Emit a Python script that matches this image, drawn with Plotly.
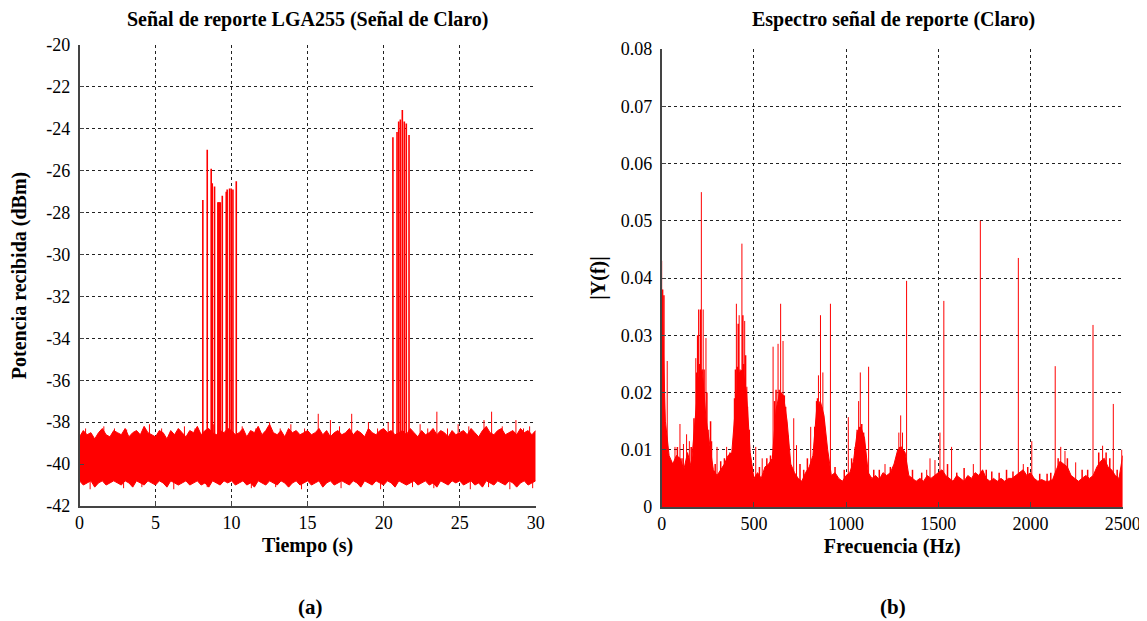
import plotly.graph_objects as go

# ---------------- (a) Señal de reporte en el tiempo ----------------
paso_t = 0.25
borde_superior = [
    -38.7, -38.4, -38.6, -38.5, -38.8, -38.5, -38.3, -38.6, -38.7, -38.4,
    -38.5, -38.6, -38.3, -38.7, -38.5, -38.4, -38.6, -38.2, -38.5, -38.6,
    -38.7, -38.4, -38.5, -38.8, -38.4, -38.6, -38.3, -38.5, -38.7, -38.4,
    -38.5, -38.2, -38.6, -38.4, -38.3, -38.5, -38.6, -38.4, -38.5, -38.3,
    -38.4, -38.6, -38.5, -38.3, -38.7, -38.4, -38.5, -38.2, -38.6, -38.4,
    -38.1, -38.5, -38.6, -38.4, -38.7, -38.3, -38.5, -38.4, -38.6, -38.5,
    -38.4, -38.6, -38.5, -38.3, -38.6, -38.4, -38.7, -38.5, -38.4, -38.6,
    -38.5, -38.3, -38.6, -38.4, -38.5, -38.7, -38.3, -38.5, -38.6, -38.4,
    -38.3, -38.5, -38.4, -38.6, -38.5, -38.4, -38.6, -38.3, -38.5, -38.7,
    -38.4, -38.6, -38.5, -38.3, -38.6, -38.4, -38.5, -38.7, -38.4, -38.6,
    -38.5, -38.4, -38.6, -38.3, -38.5, -38.7, -38.4, -38.2, -38.5, -38.6,
    -38.4, -38.3, -38.6, -38.5, -38.4, -38.6, -38.3, -38.5, -38.4, -38.6,
    -38.4,
]
borde_inferior = [
    -40.8, -41.0, -40.9, -40.8, -41.1, -40.9, -40.8, -41.0, -40.9, -40.8,
    -40.9, -41.0, -40.8, -40.9, -41.1, -40.8, -40.9, -41.0, -40.8, -40.9,
    -41.0, -40.8, -40.9, -41.1, -40.8, -40.9, -41.0, -40.9, -40.8, -41.0,
    -40.9, -40.8, -41.0, -40.9, -41.1, -40.8, -40.9, -41.0, -40.8, -40.9,
    -40.8, -41.0, -40.9, -40.8, -41.0, -40.9, -41.1, -40.8, -40.9, -41.0,
    -40.8, -40.9, -41.0, -40.8, -40.9, -41.1, -40.9, -40.8, -41.0, -40.9,
    -40.8, -41.0, -40.9, -40.8, -41.1, -40.9, -40.8, -41.0, -40.9, -40.8,
    -40.9, -41.0, -40.8, -40.9, -41.1, -40.8, -40.9, -41.0, -40.8, -40.9,
    -41.0, -40.8, -40.9, -41.1, -40.8, -40.9, -41.0, -40.9, -40.8, -41.0,
    -40.9, -40.8, -41.0, -40.9, -41.1, -40.8, -40.9, -41.0, -40.8, -40.9,
    -40.8, -41.0, -40.9, -40.8, -41.0, -40.9, -41.1, -40.8, -40.9, -41.0,
    -40.8, -40.9, -41.0, -40.8, -40.9, -41.1, -40.9, -40.8, -41.0, -40.9,
    -40.8,
]
tiempo_borde = [i * paso_t for i in range(len(borde_superior))]

# rafagas de reporte y picos de ruido (tiempo s, potencia dBm)
rafaga_t = [8.11, 8.40, 8.66, 8.73, 8.88, 9.10, 9.15, 9.20, 9.26, 9.39,
            9.65, 9.71, 9.87, 9.98, 10.09, 10.31,
            20.61, 20.88, 20.99, 21.10, 21.23, 21.36, 21.49, 21.67]
rafaga_p = [-27.4, -25.0, -25.9, -26.6, -26.75, -27.5, -27.5, -27.5, -27.5, -27.2,
            -27.0, -26.9, -26.85, -26.85, -26.9, -26.5,
            -24.4, -24.15, -23.65, -23.55, -23.1, -23.65, -23.75, -24.3]
ruido_t = [0.4, 1.6, 2.3, 3.1, 4.6, 5.4, 6.9, 7.6, 8.8, 10.7, 11.6, 12.5, 13.2,
           13.9, 14.8, 15.7, 16.5, 17.1, 17.9, 19.0, 19.6, 20.3, 22.4, 22.9,
           23.5, 24.2, 24.9, 25.6, 26.6, 27.1, 27.8, 28.7, 29.2, 29.6]
ruido_p = [-38.3, -38.2, -38.3, -38.35, -38.1, -38.3, -38.2, -38.3, -38.1, -38.2,
           -38.3, -38.0, -38.3, -38.1, -38.3, -37.6, -37.9, -38.2, -37.6, -38.0,
           -38.3, -38.0, -38.1, -38.3, -37.5, -38.3, -38.1, -38.2, -37.9, -37.5,
           -38.2, -37.9, -38.3, -38.2]
ruido_bajo_t = [0.7, 2.9, 4.1, 6.2, 8.4, 11.3, 12.9, 14.6, 17.2, 19.8, 21.9,
                23.3, 25.7, 26.9, 28.3, 29.8]
ruido_bajo_p = [-41.2, -41.15, -41.1, -41.2, -41.1, -41.15, -41.1, -41.2, -41.15,
                -41.2, -41.1, -41.15, -41.2, -41.1, -41.2, -41.15]
ticks_potencia = [-42, -40, -38, -36, -34, -32, -30, -28, -26, -24, -22, -20]

# ---------------- (b) Espectro ----------------
paso_f = 20
espectro_base = [
    0.0380, 0.0150, 0.0090, 0.0075, 0.0090, 0.0085, 0.0065, 0.0095, 0.0070, 0.0145,
    0.0225, 0.0240, 0.0155, 0.0110, 0.0065, 0.0055, 0.0065, 0.0075, 0.0090, 0.0095,
    0.0175, 0.0235, 0.0240, 0.0200, 0.0095, 0.0050, 0.0060, 0.0050, 0.0070, 0.0075,
    0.0085, 0.0170, 0.0200, 0.0195, 0.0150, 0.0075, 0.0060, 0.0050, 0.0045, 0.0060,
    0.0070, 0.0090, 0.0170, 0.0185, 0.0160, 0.0100, 0.0055, 0.0060, 0.0050, 0.0045,
    0.0055, 0.0060, 0.0080, 0.0130, 0.0140, 0.0120, 0.0060, 0.0050, 0.0055, 0.0048,
    0.0060, 0.0055, 0.0060, 0.0075, 0.0100, 0.0105, 0.0095, 0.0055, 0.0050, 0.0045,
    0.0050, 0.0045, 0.0055, 0.0050, 0.0055, 0.0060, 0.0065, 0.0055, 0.0050, 0.0045,
    0.0055, 0.0050, 0.0045, 0.0055, 0.0050, 0.0060, 0.0055, 0.0065, 0.0050, 0.0045,
    0.0050, 0.0045, 0.0050, 0.0045, 0.0050, 0.0050, 0.0055, 0.0060, 0.0065, 0.0055,
    0.0060, 0.0050, 0.0045, 0.0048, 0.0045, 0.0045, 0.0048, 0.0065, 0.0080, 0.0075,
    0.0070, 0.0055, 0.0050, 0.0045, 0.0050, 0.0055, 0.0050, 0.0055, 0.0070, 0.0080,
    0.0085, 0.0070, 0.0065, 0.0055, 0.0050, 0.0090,
]
frecuencia_base = [i * paso_f for i in range(len(espectro_base))]

# picos destacados (Hz, |Y(f)|)
pico_f = [0, 30, 72, 99, 118, 135, 150, 185, 200, 215, 225, 240, 255, 300, 352,
          405, 420, 435, 450, 462, 510, 545, 604, 631, 645, 658, 716, 731, 808,
          850, 861, 874, 915, 1012, 1068, 1077, 1122, 1211, 1286, 1296, 1306,
          1328, 1437, 1455, 1482, 1509, 1530, 1572, 1690, 1728, 1934, 1961,
          2007, 2134, 2164, 2187, 2245, 2339, 2391, 2449, 2495]
pico_y = [0.043, 0.0255, 0.0105, 0.0145, 0.011, 0.0127, 0.0115, 0.026, 0.0345, 0.055,
          0.0345, 0.0295, 0.0135, 0.0105, 0.0105, 0.0355, 0.0335, 0.046, 0.0325,
          0.021, 0.0105, 0.0085, 0.028, 0.0285, 0.0355, 0.029, 0.0155, 0.0108,
          0.014, 0.023, 0.0335, 0.0235, 0.0355, 0.0157, 0.0185, 0.0235, 0.0245,
          0.0075, 0.013, 0.016, 0.013, 0.0395, 0.0065, 0.0085, 0.0082, 0.013,
          0.036, 0.0105, 0.0075, 0.050, 0.0435, 0.0075, 0.0115, 0.0246, 0.0105,
          0.0098, 0.0078, 0.0318, 0.0107, 0.018, 0.010]

# textura de las jorobas y del piso de ruido (Hz, |Y(f)|)
textura_f = [5, 12, 50, 85, 110, 160, 175, 190, 195, 205, 210, 230, 245, 265, 270,
             290, 320, 340, 370, 395, 400, 410, 415, 425, 440, 445, 455, 465, 475,
             530, 570, 590, 612, 620, 637, 650, 665, 672, 685, 750, 770, 790,
             830, 840, 845, 855, 868, 880, 890, 940, 990, 1030, 1050, 1060, 1072,
             1085, 1095, 1105, 1150, 1180, 1240, 1275, 1290, 1300, 1315, 1360,
             1410, 1550, 1600, 1640, 1760, 1790, 1830, 1870, 1905, 1985, 2050,
             2090, 2110, 2150, 2200, 2280, 2310, 2370, 2410, 2430, 2470]
textura_y = [0.038, 0.037, 0.008, 0.0105, 0.0085, 0.0105, 0.0155, 0.0235, 0.030,
             0.025, 0.0345, 0.024, 0.020, 0.015, 0.0115, 0.0075, 0.008, 0.0085,
             0.0095, 0.019, 0.024, 0.0245, 0.032, 0.024, 0.0335, 0.025, 0.0265,
             0.0175, 0.0135, 0.007, 0.0085, 0.009, 0.0185, 0.0205, 0.0205, 0.020,
             0.0195, 0.0175, 0.0125, 0.0075, 0.0065, 0.0085, 0.014, 0.0185,
             0.019, 0.018, 0.0175, 0.015, 0.0095, 0.007, 0.0065, 0.0085, 0.0105,
             0.0135, 0.014, 0.0145, 0.013, 0.0085, 0.0065, 0.0065, 0.007, 0.009,
             0.0105, 0.0105, 0.0095, 0.0065, 0.006, 0.0075, 0.006, 0.0068, 0.0065,
             0.0062, 0.006, 0.0065, 0.0062, 0.007, 0.0058, 0.0058, 0.006, 0.0085,
             0.0085, 0.0065, 0.0065, 0.0095, 0.0095, 0.0085, 0.0065]
ticks_espectro = ["0", "0.01", "0.02", "0.03", "0.04", "0.05", "0.06", "0.07", "0.08"]

ROJO = "#ff0000"
FUENTE = "Liberation Serif"

# la pagina deja 8 px de margen en el body: se descuentan aqui
ANCHO, ALTO, DESPL = 1139, 613, 8


def px_x(x):
    return (x - DESPL) / ANCHO


def px_y(y):
    return 1 - (y - DESPL) / ALTO


def tallos(xs, ys, base):
    sx, sy = [], []
    for x, y in zip(xs, ys):
        sx += [x, x, None]
        sy += [base, y, None]
    return sx, sy


fig = go.Figure()

# banda de ruido (a)
fig.add_trace(go.Scatter(x=tiempo_borde, y=borde_inferior, mode="lines",
                         line=dict(color=ROJO, width=1), xaxis="x", yaxis="y"))
fig.add_trace(go.Scatter(x=tiempo_borde, y=borde_superior, mode="lines",
                         line=dict(color=ROJO, width=1), fill="tonexty",
                         fillcolor=ROJO, xaxis="x", yaxis="y"))
sx, sy = tallos(ruido_t, ruido_p, -39.5)
fig.add_trace(go.Scatter(x=sx, y=sy, mode="lines", line=dict(color=ROJO, width=1),
                         xaxis="x", yaxis="y"))
sx, sy = tallos(ruido_bajo_t, ruido_bajo_p, -40.0)
fig.add_trace(go.Scatter(x=sx, y=sy, mode="lines", line=dict(color=ROJO, width=1),
                         xaxis="x", yaxis="y"))
sx, sy = tallos(rafaga_t, rafaga_p, -39.5)
fig.add_trace(go.Scatter(x=sx, y=sy, mode="lines", line=dict(color=ROJO, width=1.6),
                         xaxis="x", yaxis="y"))

# espectro (b)
fig.add_trace(go.Scatter(x=frecuencia_base, y=espectro_base, mode="lines",
                         line=dict(color=ROJO, width=1), fill="tozeroy",
                         fillcolor=ROJO, xaxis="x2", yaxis="y2"))
sx, sy = tallos(textura_f, textura_y, 0)
fig.add_trace(go.Scatter(x=sx, y=sy, mode="lines", line=dict(color=ROJO, width=1.5),
                         xaxis="x2", yaxis="y2"))
sx, sy = tallos(pico_f, pico_y, 0)
fig.add_trace(go.Scatter(x=sx, y=sy, mode="lines", line=dict(color=ROJO, width=1),
                         xaxis="x2", yaxis="y2"))

ejes = dict(
    showgrid=True, gridcolor="#222222", griddash="3px,3px", gridwidth=1,
    showline=True, linecolor="#444444", linewidth=1.5, mirror=False,
    ticks="inside", ticklen=5, tickcolor="#444444",
    tickfont=dict(family=FUENTE, size=18, color="black"),
    zeroline=False, automargin=False,
)
titulo_eje = dict(family=FUENTE, size=20, color="black", weight="bold")

fig.update_layout(
    width=ANCHO, height=ALTO,
    paper_bgcolor="white", plot_bgcolor="white",
    showlegend=False,
    margin=dict(l=0, r=0, t=0, b=0),
    xaxis=dict(ejes, domain=[px_x(79.5), px_x(535.7)], range=[0, 30],
               dtick=5, anchor="y", ticklabelstandoff=0,
               title=dict(text="Tiempo (s)", font=titulo_eje, standoff=6)),
    yaxis=dict(ejes, domain=[px_y(506), px_y(45)],
               range=[-42, -20], anchor="x", ticklabelstandoff=4,
               tickvals=ticks_potencia, ticktext=[str(v) for v in ticks_potencia],
               title=dict(text="Potencia recibida (dBm)", font=titulo_eje, standoff=14)),
    xaxis2=dict(ejes, domain=[px_x(661.7), px_x(1122.7)], range=[0, 2500],
                dtick=500, anchor="y2", ticklabelstandoff=0,
                title=dict(text="Frecuencia (Hz)", font=titulo_eje, standoff=6)),
    yaxis2=dict(ejes, domain=[px_y(507), px_y(49)],
                range=[0, 0.08], anchor="x2", ticklabelstandoff=4,
                tickvals=[float(t) for t in ticks_espectro], ticktext=ticks_espectro,
                title=dict(text="|Y(f)|", font=titulo_eje, standoff=10)),
)

etiquetas = [
    (307, 20, "Señal de reporte LGA255 (Señal de Claro)", 20),
    (893, 20, "Espectro señal de reporte (Claro)", 20),
    (310, 607, "(a)", 21),
    (893, 607, "(b)", 21),
]
for x, y, txt, size in etiquetas:
    fig.add_annotation(x=px_x(x), y=px_y(y), xref="paper", yref="paper",
                       text="<b>" + txt + "</b>", showarrow=False,
                       xanchor="center", yanchor="middle",
                       font=dict(family=FUENTE, size=size, color="black"))

fig.write_html("out.html")
